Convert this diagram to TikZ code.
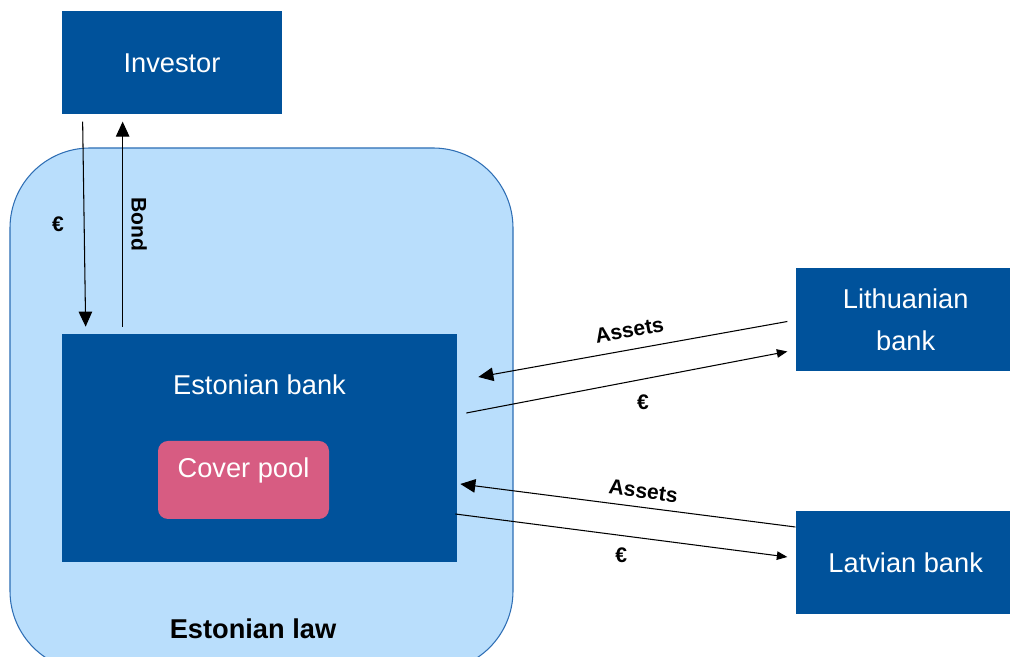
\documentclass[tikz,border=0pt]{standalone}
\usepackage{fontspec}
\setmainfont{Liberation Sans}
\usetikzlibrary{arrows.meta, positioning, calc}

\definecolor{bankblue}{RGB}{0,82,155}
\definecolor{lawblue}{RGB}{185,222,252}
\definecolor{lawedge}{RGB}{46,110,180}
\definecolor{poolpink}{RGB}{215,92,130}

\begin{document}
\begin{tikzpicture}[
		party/.style={rectangle, fill=bankblue, text=white, align=center, minimum width=4.4cm, minimum height=2.06cm, font=\fontsize{15.5}{24}\selectfont},
		inner_text/.style={text=white, font=\fontsize{15.5}{19}\selectfont},
		law_text/.style={font=\fontsize{15.5}{19}\selectfont\bfseries},
		tag/.style={font=\fontsize{12}{14}\selectfont\bfseries},
		flow/.style={draw, line width=0.6pt, -{Triangle[length=0.3cm, width=0.27cm]}},
		thin_flow/.style={draw, line width=0.6pt, -{Triangle[length=0.21cm, width=0.17cm]}}
	]
	\useasboundingbox (0,0) rectangle (20.2,13.14);
	\clip (0,0) rectangle (20.2,13.14);

	% Jurisdiction: Estonian law
	\node [draw=lawedge, fill=lawblue, line width=0.6pt, rounded corners=1.6cm, minimum width=10.06cm, minimum height=10.46cm] (law) at (5.23,4.95) {};
	\node [law_text] (lawname) at ($(law.south)+(-0.17,0.86)$) {Estonian law};

	% Estonian bank with its cover pool
	\node [rectangle, fill=bankblue, minimum width=7.9cm, minimum height=4.56cm] (bank) at (5.19,4.18) {};
	\node [inner_text, below=0.7cm of bank.north] (bankname) {Estonian bank};
	\node [rectangle, fill=poolpink, rounded corners=0.2cm, minimum width=3.42cm, minimum height=1.56cm] (pool) at ($(bank)+(-0.32,-0.64)$) {};
	\node [inner_text, below=0.22cm of pool.north] (poolname) {Cover pool};

	% Counterparties
	\node [party, above=4.38cm of bank.north west, anchor=south west] (investor) {Investor};
	\node [party, right=6.76cm of bank.north east, anchor=north west, yshift=1.32cm] (lithuania) {Lithuanian\\bank};
	\node [party, right=6.76cm of bank.south east, anchor=south west, yshift=-1.04cm] (latvia) {Latvian bank};

	% Edges
	\path [flow] ([xshift=0.42cm, yshift=-0.14cm]investor.south west) -- node[tag, left=0.28cm] {€} ([xshift=0.48cm, yshift=0.14cm]bank.north west);
	\path [flow] ([xshift=1.22cm, yshift=0.14cm]bank.north west) -- node[tag, rotate=-90, anchor=south, yshift=0.05cm] {Bond} ([xshift=1.22cm, yshift=-0.14cm]investor.south west);

	\path [flow] ([xshift=-0.16cm, yshift=-0.04cm]lithuania.west) -- node[tag, sloped, above=0.11cm] {Assets} ([xshift=0.42cm, yshift=1.42cm]bank.east);
	\path [thin_flow] ([xshift=0.18cm, yshift=0.7cm]bank.east) -- node[tag, below=0.19cm, pos=0.55] {€} ([xshift=-0.16cm, yshift=-0.64cm]lithuania.west);

	\path [flow] ([yshift=0.71cm]latvia.west) -- node[tag, sloped, above=0.05cm, pos=0.46] {Assets} ([xshift=0.06cm, yshift=-0.72cm]bank.east);
	\path [thin_flow] ([xshift=-0.04cm, yshift=-1.32cm]bank.east) -- node[tag, below=0.11cm] {€} ([xshift=-0.16cm, yshift=0.11cm]latvia.west);

\end{tikzpicture}
\end{document}
